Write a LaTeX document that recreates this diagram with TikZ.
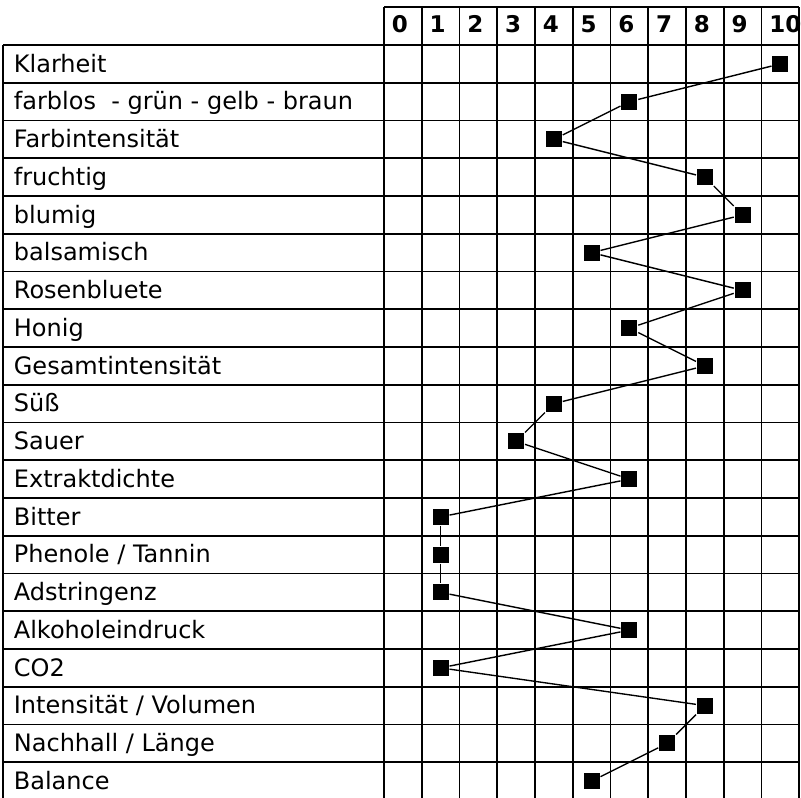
\documentclass[tikz,border=0pt]{standalone}
\usepackage{fontspec}
\setmainfont{DejaVu Sans}
\begin{document}
\begin{tikzpicture}[x=1pt,y=-1pt,line width=1.8pt]
    \tikzstyle{rating}=[rectangle,fill=black,minimum size=16pt,inner sep=0pt]
    \tikzstyle{criterion}=[anchor=base west,inner sep=0pt,font=\fontsize{24}{28}\selectfont]
    \tikzstyle{score}=[anchor=base west,inner sep=0pt,font=\fontsize{23}{27}\selectfont\bfseries]

    \useasboundingbox (0,0) rectangle (801,798);

    % header row with the scale
    \foreach \x in {0,...,10}
    \node[score] (S-\x) at (384+37.75*\x+7,32) {\x};

    % horizontal grid lines
    \draw (384,7.25) -- (799.25,7.25);
    \foreach \r in {0,...,19}
    \draw (3,45+37.75*\r) -- (799.25,45+37.75*\r);

    % vertical grid lines
    \draw (3,45) -- (3,798);
    \foreach \c in {1,...,11}
    \draw (384+37.75*\c,7.25) -- (384+37.75*\c,798);
    \draw[line width=2.6pt] (384,7.25) -- (384,798);

    % criteria and their ratings
    \foreach \val/\txt [count=\i] in {10/Klarheit, 6/farblos~ - grün - gelb - braun,
      4/Farbintensität, 8/fruchtig, 9/blumig, 5/balsamisch, 9/Rosenbluete, 6/Honig,
      8/Gesamtintensität, 4/Süß, 3/Sauer, 6/Extraktdichte, 1/Bitter,
      1/{Phenole / Tannin}, 1/Adstringenz, 6/Alkoholeindruck, 1/CO2,
      8/{Intensität / Volumen}, 7/{Nachhall / Länge}, 5/Balance}
    {
      \node[criterion] (C-\i) at (13,45+37.75*\i-10.75) {\txt};
      \node[rating] (R-\i) at (384+37.75*\val+18.875,45+37.75*\i-18.875) {};
    }

    % connect every rating with the next one
    \foreach \i [remember=\i as \j (initially 1)] in {2,...,20}
    \draw[line width=1.4pt] (R-\j) -- (R-\i);
\end{tikzpicture}
\end{document}
